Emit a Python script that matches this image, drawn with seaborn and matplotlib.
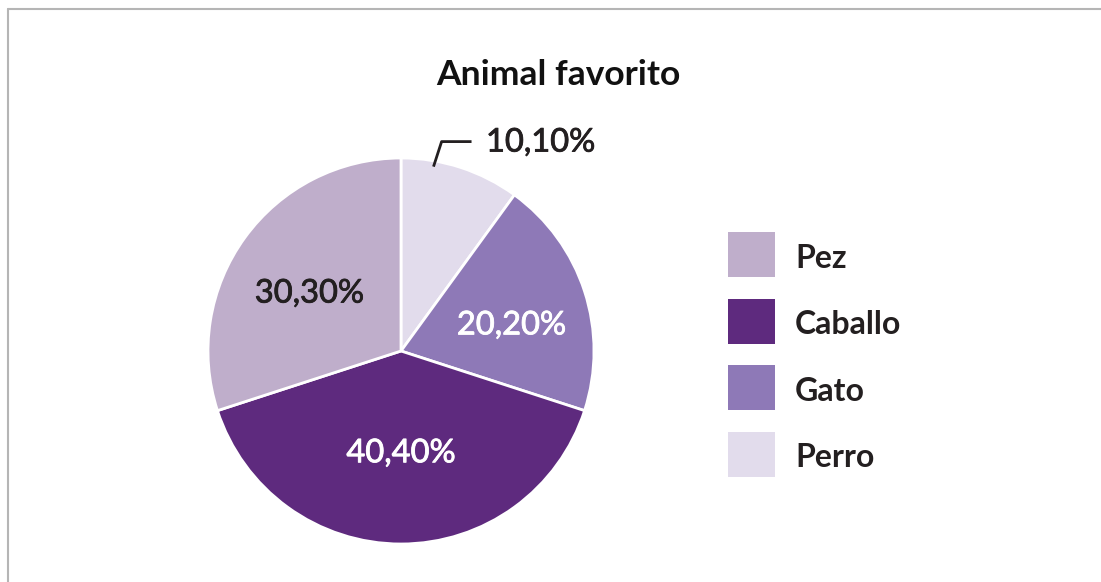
import numpy as np
import matplotlib
matplotlib.use("Agg")
import matplotlib.pyplot as plt
import matplotlib.patheffects as pe
from matplotlib.patches import Patch
from matplotlib.lines import Line2D
import seaborn as sns

# ---- data ----
categories = ["Perro", "Gato", "Caballo", "Pez"]
values = [10.10, 20.20, 40.40, 30.30]
pct_labels = ["10,10%", "20,20%", "40,40%", "30,30%"]
legend_order = ["Pez", "Caballo", "Gato", "Perro"]
colors = {"Perro": "#e2dcec", "Gato": "#8e79b7", "Caballo": "#5e2a7e", "Pez": "#bfaecb"}
title = "Animal favorito"

sns.set_theme(style="white")
plt.rcParams['font.family'] = ['Lato', 'DejaVu Sans']

W, H = 1101, 582
fig = plt.figure(figsize=(W / 100, H / 100), dpi=100)
fig.patch.set_facecolor("white")

# pie axes: centre (401,351) px, radius 193 px
cx, cy, r = 401, 351, 193
ax = fig.add_axes([(cx - r) / W, (H - cy - r) / H, 2 * r / W, 2 * r / H])
wedges, _ = ax.pie(values, colors=[colors[c] for c in categories],
                   startangle=90, counterclock=False, radius=1,
                   wedgeprops=dict(edgecolor="white", linewidth=2))
ax.set_xlim(-1, 1)
ax.set_ylim(-1, 1)
ax.set_aspect("equal")
ax.axis("off")

text_colors = {"Perro": "#231f20", "Gato": "white", "Caballo": "white", "Pez": "#231f20"}
place = {"Gato": (0.59, -4), "Caballo": (0.52, 0), "Pez": (0.565, 3)}
FS = 23.5
for w, cat, lab in zip(wedges, categories, pct_labels):
    mid = (w.theta1 + w.theta2) / 2
    col = text_colors[cat]
    eff = [pe.withStroke(linewidth=0.6, foreground=col)]
    if cat == "Perro":
        a0 = np.deg2rad(w.theta2 - 10)
        x0, y0 = 0.97 * np.cos(a0), 0.97 * np.sin(a0)
        x1, y1 = x0 + 0.042, 1.085
        x2 = x1 + 0.155
        ax.plot([x0, x1, x2], [y0, y1, y1], color="#231f20", lw=2.0,
                solid_capstyle="butt", clip_on=False)
        ax.text(x2 + 0.075, y1 - 0.005, lab, ha="left", va="center", fontsize=FS,
                color=col, clip_on=False, path_effects=eff)
    else:
        d, da = place[cat]
        ang = np.deg2rad(mid + da)
        ax.text(d * np.cos(ang), d * np.sin(ang) - 0.01, lab, ha="center", va="center",
                fontsize=FS, color=col, path_effects=eff)

fig.text(558 / W, 1 - 75 / H, title, ha="center", va="center",
         fontsize=25.5, fontweight="bold", color="#111111")

handles = [Patch(facecolor=colors[c], edgecolor="none") for c in legend_order]
fs = 23
px = fs * 100 / 72
hh = (45 / px - 0.245) / 0.65
leg = fig.legend(handles, legend_order, loc="upper left",
                 bbox_to_anchor=(728 / W, 1 - 232 / H), frameon=False,
                 fontsize=fs, handlelength=47 / px, handleheight=hh,
                 handletextpad=20 / px, labelspacing=21.5 / px,
                 borderpad=0, borderaxespad=0)
for t in leg.get_texts():
    t.set_fontweight("bold")
    t.set_color("#231f20")
    t.set_y(-3)

# frame lines (top and left)
fig.add_artist(Line2D([7.5 / W, 1], [1 - 8.5 / H, 1 - 8.5 / H], color="#b5b5b5",
                      lw=1.5, transform=fig.transFigure))
fig.add_artist(Line2D([7.5 / W, 7.5 / W], [0, 1 - 8.5 / H], color="#b5b5b5",
                      lw=1.5, transform=fig.transFigure))

fig.savefig("out.png", dpi=100, facecolor="white")
